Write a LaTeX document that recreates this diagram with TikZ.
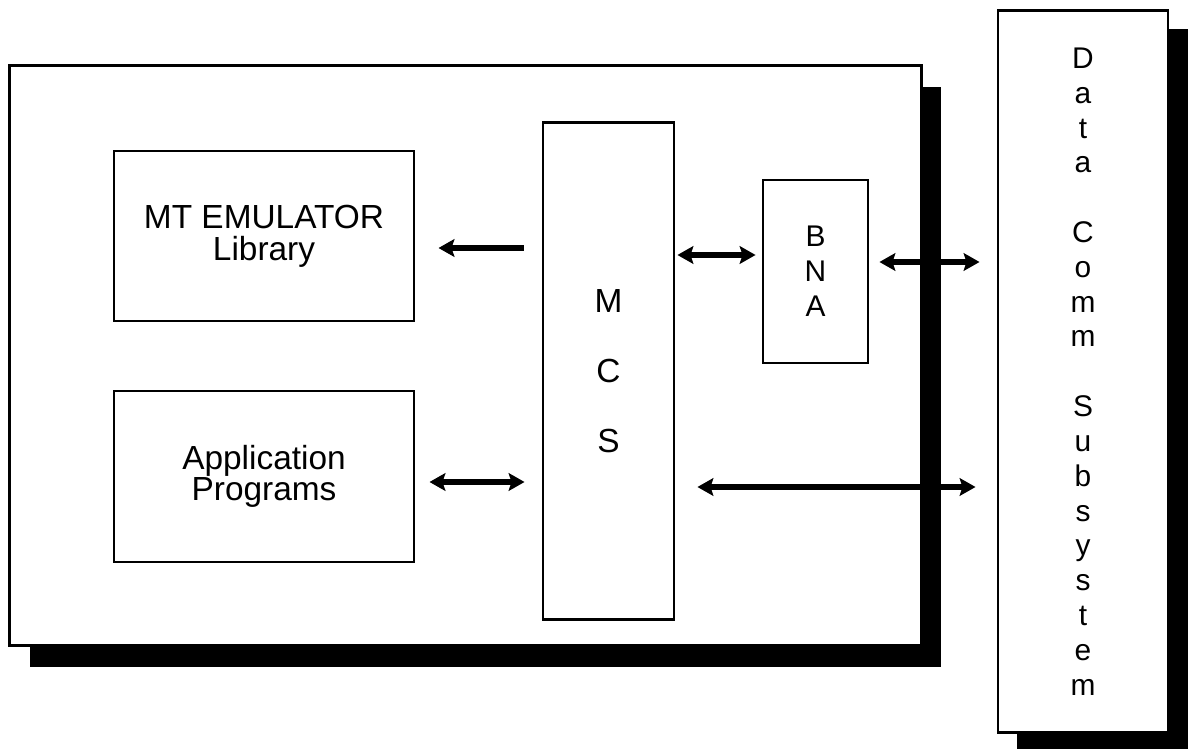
\documentclass[tikz,border=0pt]{standalone}
\usepackage{fontspec}
\setmainfont{Liberation Sans}
\usetikzlibrary{arrows.meta}
\begin{document}
\begin{tikzpicture}[x=0.01cm, y=-0.01cm,
    box/.style={draw=black, line width=0.8pt, fill=white, inner sep=0pt, align=center,
      font=\fontsize{9.5}{9}\selectfont},
    letters/.style={font=\fontsize{8.5}{9.9}\selectfont},
    shade/.style={fill=black},
    link/.style={line width=1.5pt, {Stealth[length=4.5pt,width=5pt,inset=0.8pt]}-{Stealth[length=4.5pt,width=5pt,inset=0.8pt]}},
    oneway/.style={line width=1.5pt, -{Stealth[length=4.5pt,width=5pt,inset=0.8pt]}}]
    \useasboundingbox (0,0) rectangle (1188,749);

    % shadows
    \fill[shade] (30,87) rectangle (941,667);
    \fill[shade] (1017,29) rectangle (1188,749);

    \node[box, minimum width=9.11cm, minimum height=5.79cm] (host) at (465.5,355.5) {};
    \node[box, letters, minimum width=1.70cm, minimum height=7.21cm] (dcs) at (1083,371.5)
        {D\\a\\t\\a\\ \\C\\o\\m\\m\\ \\S\\u\\b\\s\\y\\s\\t\\e\\m};

    \node[box, minimum width=3.00cm, minimum height=1.70cm] (mt) at (264,236) {MT EMULATOR\\Library};
    \node[box, minimum width=3.00cm, minimum height=1.71cm] (app) at (264,476.5) {Application\\Programs};
    \node[box, font=\fontsize{9.5}{9.96}\selectfont, minimum width=1.31cm, minimum height=4.96cm] (mcs) at (608.5,371) {M\\ \\C\\ \\S};
    \node[box, letters, minimum width=1.05cm, minimum height=1.83cm] (bna) at (815.5,271.5) {B\\N\\A};

    \draw[oneway, shorten <=0.18cm, shorten >=0.23cm] (mcs.west |- 0,248) -- (mt.east |- 0,248);
    \draw[link, shorten <=0.02cm, shorten >=0.06cm] (mcs.east |- 0,255) -- (bna.west |- 0,255);
    \draw[link, shorten <=0.10cm, shorten >=0.17cm] (bna.east |- 0,262) -- (dcs.west |- 0,262);
    \draw[link, shorten <=0.14cm, shorten >=0.17cm] (app.east |- 0,482) -- (mcs.west |- 0,482);
    \draw[link, shorten <=0.22cm, shorten >=0.21cm] (mcs.east |- 0,487) -- (dcs.west |- 0,487);
\end{tikzpicture}
\end{document}
